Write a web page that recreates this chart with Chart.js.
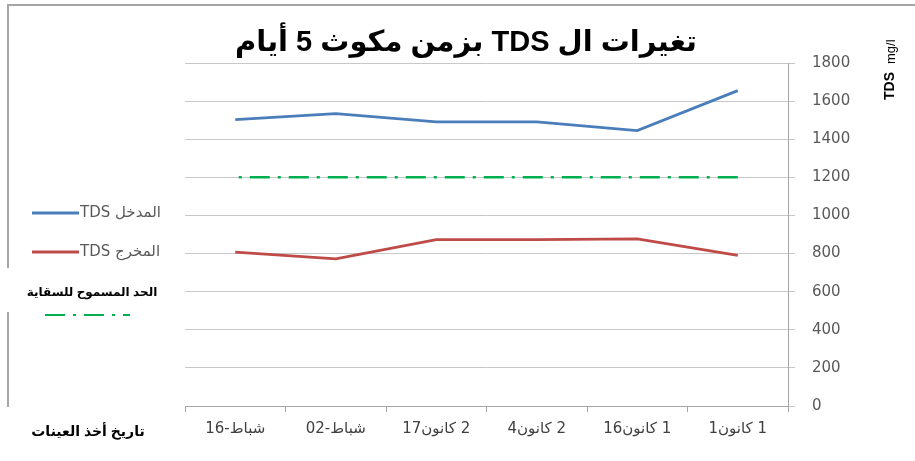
<!DOCTYPE html>
<html>
<head>
<meta charset="utf-8">
<script src="https://cdn.jsdelivr.net/npm/chart.js@4.4.1/dist/chart.umd.min.js"></script>
<style>
  body { margin: 0; background: #fff; }
  #tds { display: block; }
</style>
</head>
<body>
<canvas id="tds" width="915" height="461" dir="ltr"></canvas>
<script>
/****************************************************/
/*****************chart data*************************/
/****************************************************/
// sampling dates, oldest first (axis is drawn right-to-left)
let sampleDates = ['1كانون 1', '16كانون 1', '4كانون 2', '17كانون 2', '02-شباط', '16-شباط'];
let tdsIn = [1655, 1445, 1491, 1491, 1534, 1503];
let tdsOut = [790, 877, 873, 873, 772, 807];
let tdsLimit = [1200, 1200, 1200, 1200, 1200, 1200];
let seriesNames = ['TDS المدخل', 'TDS المخرج', 'الحد المسموح للسقاية'];
let yMin = 0, yMax = 1800, yStep = 200;

let chartTitle = 'تغيرات ال TDS بزمن مكوث 5 أيام';
let xTitle = 'تاريخ أخذ العينات';
let yTitleMain = 'TDS';
let yTitleUnit = 'mg/l';

let arabicFont = '"DejaVu Sans", "Liberation Sans", sans-serif';
let titleFont = '"Liberation Sans", "DejaVu Sans", sans-serif';

// keep day number on the left and month number on the right of the month name
function dateLabel(s) {
  return s.replace(/^(\d+)/, '$1\u200E').replace(/ /g, '\u200E ');
}

/****************************************************/
/*****************extra drawing (title, legend)******/
/****************************************************/
let decorations = {
  id: 'decorations',
  beforeDraw(chart) {
    chart.ctx.direction = 'ltr';
  },
  afterDraw(chart) {
    let ctx = chart.ctx;
    let sets = chart.data.datasets;
    ctx.save();

    // outer frame (left + top), broken where the third legend item sits
    ctx.strokeStyle = '#a6a6a6';
    ctx.lineWidth = 2;
    ctx.beginPath();
    ctx.moveTo(8, 268); ctx.lineTo(8, 5); ctx.lineTo(915, 5);
    ctx.moveTo(8, 312); ctx.lineTo(8, 407);
    ctx.stroke();

    // title, right-to-left
    ctx.direction = 'rtl';
    ctx.fillStyle = '#000';
    ctx.font = 'bold 29px ' + titleFont;
    ctx.textAlign = 'center';
    ctx.textBaseline = 'middle';
    ctx.fillText(chartTitle, 466, 43);
    ctx.direction = 'ltr';

    // x axis title
    ctx.font = 'bold 14px ' + titleFont;
    ctx.fillText(xTitle, 88, 432);

    // y axis title, reading upwards
    ctx.save();
    ctx.translate(890, 100);
    ctx.rotate(-Math.PI / 2);
    ctx.textAlign = 'left';
    ctx.font = 'bold 14px ' + titleFont;
    ctx.fillText(yTitleMain, 0, 0);
    let w = ctx.measureText(yTitleMain).width;
    ctx.font = '13px ' + titleFont;
    ctx.fillText(yTitleUnit, w + 8, 1);
    ctx.restore();

    // legend
    ctx.textAlign = 'left';
    ctx.font = '15px ' + arabicFont;
    ctx.fillStyle = '#595959';
    [213, 252].forEach((y, i) => {
      ctx.strokeStyle = sets[i].borderColor;
      ctx.lineWidth = 3;
      ctx.setLineDash([]);
      ctx.beginPath(); ctx.moveTo(32, y); ctx.lineTo(79, y); ctx.stroke();
      ctx.fillText(sets[i].label, 80, y);
    });
    ctx.fillStyle = '#000';
    ctx.font = 'bold 12px ' + titleFont;
    ctx.textAlign = 'center';
    ctx.fillText(sets[2].label, 92, 293);
    ctx.strokeStyle = sets[2].borderColor;
    ctx.lineWidth = 2;
    ctx.setLineDash(sets[2].borderDash);
    ctx.beginPath(); ctx.moveTo(45, 315); ctx.lineTo(130, 315); ctx.stroke();

    ctx.restore();
  }
};

/****************************************************/
/*****************chart******************************/
/****************************************************/
let ctx = document.getElementById('tds').getContext('2d');
let myChart = new Chart(ctx, {
  type: 'line',
  data: {
    labels: sampleDates,
    datasets: [{
      label: seriesNames[0],
      data: tdsIn,
      borderColor: '#4a7ebb',
      borderWidth: 2.75,
      pointRadius: 0,
      tension: 0
    }, {
      label: seriesNames[1],
      data: tdsOut,
      borderColor: '#be4b48',
      borderWidth: 2.75,
      pointRadius: 0,
      tension: 0
    }, {
      label: seriesNames[2],
      data: tdsLimit,
      borderColor: '#00b050',
      borderWidth: 2.5,
      borderDash: [20, 8, 3, 8],
      pointRadius: 0
    }]
  },
  plugins: [decorations],
  options: {
    responsive: false,
    animation: false,
    devicePixelRatio: 1,
    layout: { padding: { left: 185, top: 63, right: 0, bottom: 0 } },
    plugins: {
      legend: { display: false },
      title: { display: false },
      tooltip: { enabled: false }
    },
    scales: {
      x: {
        reverse: true,
        offset: true,
        grid: { offset: true, drawOnChartArea: false, tickLength: 6, color: '#a6a6a6' },
        border: { color: '#a6a6a6' },
        ticks: {
          color: '#404040',
          font: { family: arabicFont, size: 15 },
          padding: 8,
          maxRotation: 0,
          autoSkip: false,
          callback: function (value) { return dateLabel(this.getLabelForValue(value)); }
        },
        afterFit: (scale) => { scale.height = 55; }
      },
      y: {
        position: 'right',
        min: yMin,
        max: yMax,
        grid: { color: '#c8c8c8', tickLength: 7 },
        border: { color: '#a6a6a6' },
        ticks: {
          stepSize: yStep,
          padding: 17,
          color: '#595959',
          font: { family: arabicFont, size: 15 },
          callback: (value) => String(value)
        },
        afterFit: (scale) => { scale.width = 127; }
      }
    }
  }
});
</script>
</body>
</html>
